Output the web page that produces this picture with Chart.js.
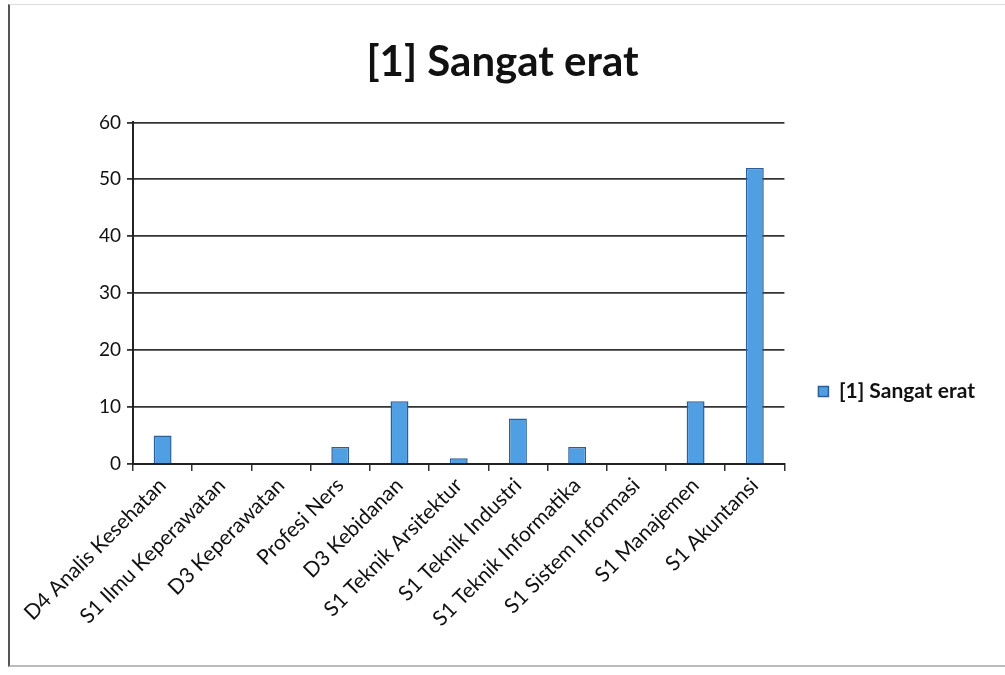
<!DOCTYPE html>
<html>
<head>
<meta charset="utf-8">
<script src="https://cdn.jsdelivr.net/npm/chart.js@4"></script>
<style>
  html, body { margin: 0; padding: 0; background: #fff; }
  #wrap { position: relative; width: 1005px; height: 675px; }
  #frame { position: absolute; left: 8px; top: 4px; width: 1000px; height: 660px;
           border-left: 2px solid #555; border-top: 1px solid #ddd; border-bottom: 2px solid #bbb; }
  canvas { position: absolute; left: 0; top: 0; }
</style>
</head>
<body>
<div id="wrap">
  <div id="frame"></div>
  <canvas id="chartBar" width="1005" height="675"></canvas>
</div>
<script>
const categories = ['D4 Analis Kesehatan', 'S1 Ilmu Keperawatan', 'D3 Keperawatan', 'Profesi Ners',
  'D3 Kebidanan', 'S1 Teknik Arsitektur', 'S1 Teknik Industri', 'S1 Teknik Informatika',
  'S1 Sistem Informasi', 'S1 Manajemen', 'S1 Akuntansi'];
const seriesName = '[1] Sangat erat';
const values = [5, 0, 0, 3, 11, 1, 8, 3, 0, 11, 52];
const yTicks = [0, 10, 20, 30, 40, 50, 60];

const FONT = 'Lato, "Open Sans", sans-serif';

// nudge the legend down/left a little, like the original sheet
const legendShift = {
  id: 'legendShift',
  afterLayout(chart) {
    const lg = chart.legend;
    lg.top += 54;
    lg.bottom += 54;
    lg.left -= 10;
    lg.right -= 10;
  }
};

const ctx = document.getElementById('chartBar').getContext('2d');
const chart = new Chart(ctx, {
  type: 'bar',
  data: {
    labels: categories,
    datasets: [{
      label: seriesName,
      data: values,
      backgroundColor: '#4f9fe2',
      borderColor: '#2b5f9c',
      borderWidth: 1.5,
      barPercentage: 0.55,
      categoryPercentage: 0.55
    }]
  },
  plugins: [legendShift],
  options: {
    responsive: false,
    animation: false,
    layout: { padding: { left: 10, right: 10, top: 10, bottom: 10 } },
    plugins: {
      title: {
        display: true,
        text: '[1] Sangat erat',
        color: '#111',
        font: { family: FONT, size: 42, weight: 'bold' },
        padding: { top: 27, bottom: 35 }
      },
      legend: {
        position: 'right',
        labels: {
          color: '#111',
          font: { family: FONT, size: 21, weight: 'bold' },
          boxWidth: 10,
          boxHeight: 10,
          padding: 44
        }
      },
      tooltip: { enabled: false }
    },
    scales: {
      x: {
        afterFit: (axis) => { axis.height = 201; },
        grid: { offset: true, drawOnChartArea: false, drawTicks: true, tickLength: 7, color: '#333', lineWidth: 1.5 },
        border: { color: '#222', width: 2 },
        ticks: {
          color: '#111',
          font: { family: FONT, size: 21 },
          minRotation: 45,
          maxRotation: 45,
          autoSkip: false,
          padding: 2
        }
      },
      y: {
        min: 0,
        max: 60,
        afterFit: (axis) => { axis.width = 123; },
        afterBuildTicks: (axis) => { axis.ticks = yTicks.map(v => ({ value: v })); },
        grid: { color: '#333', lineWidth: 1.8, tickLength: 6 },
        border: { color: '#222', width: 2 },
        ticks: {
          color: '#111',
          font: { family: FONT, size: 19 },
          padding: 6
        }
      }
    }
  }
});
</script>
</body>
</html>
